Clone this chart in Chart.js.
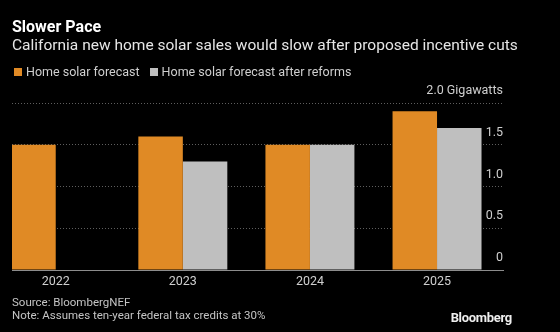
<!DOCTYPE html>
<html>
<head>
<meta charset="utf-8">
<script src="https://cdn.jsdelivr.net/npm/chart.js@4"></script>
<style>
  html, body { margin: 0; padding: 0; background: #000; }
  #wrap { position: relative; width: 560px; height: 332px; overflow: hidden; font-family: Roboto, sans-serif; }
  #chart { position: absolute; left: 0; top: 0; }
  .txt { position: absolute; left: 12px; white-space: nowrap; }
  #title { top: 17px; font-size: 16px; font-weight: bold; color: #fff; }
  #subtitle { top: 36px; font-size: 15.5px; color: #e6e6e6; }
  #legend { top: 64px; font-size: 12.5px; color: #cfcfcf; }
  #legend span.sw { display: inline-block; width: 8px; height: 8px; margin: 0 4px 0 2px; }
  #legend span.item { margin-right: 8px; }
  #source { top: 296px; font-size: 11.5px; color: #c4c4c4; line-height: 13px; }
  #logo { position: absolute; right: 48px; top: 310px; font-size: 13px; font-weight: bold; color: #eee; letter-spacing: -0.3px; }
</style>
</head>
<body>
<div id="wrap">
  <canvas id="chart" width="560" height="332"></canvas>
  <div class="txt" id="title">Slower Pace</div>
  <div class="txt" id="subtitle">California new home solar sales would slow after proposed incentive cuts</div>
  <div class="txt" id="legend"></div>
  <div class="txt" id="source">Source: BloombergNEF<br>Note: Assumes ten-year federal tax credits at 30%</div>
  <div id="logo">Bloomberg</div>
</div>
<script>
var years = [2022, 2023, 2024, 2025];
var forecast = [1.5, 1.6, 1.5, 1.9];
var afterReforms = [null, 1.3, 1.5, 1.7];
var yTicks = [0, 0.5, 1.0, 1.5, 2.0];
var seriesNames = ['Home solar forecast', 'Home solar forecast after reforms'];
var seriesColors = ['#e08a25', '#bfbfbf'];

// legend
var legendHtml = '';
seriesNames.forEach(function(name, i) {
    legendHtml += '<span class="item"><span class="sw" style="background:' + seriesColors[i] + '"></span>' + name + '</span>';
});
document.getElementById('legend').innerHTML = legendHtml;

function points(values) {
    return years.map(function(y, i) { return { x: y, y: values[i] }; });
}

var ctx = document.getElementById('chart').getContext('2d');
new Chart(ctx, {
    type: 'bar',
    data: {
        datasets: [{
            label: seriesNames[0],
            data: points(forecast),
            backgroundColor: seriesColors[0]
        }, {
            label: seriesNames[1],
            data: points(afterReforms),
            backgroundColor: seriesColors[1]
        }]
    },
    options: {
        responsive: false,
        animation: false,
        events: [],
        categoryPercentage: 0.7,
        barPercentage: 1.0,
        layout: { padding: { left: 12, right: 57, top: 103, bottom: 39 } },
        plugins: {
            legend: { display: false },
            title: { display: false },
            tooltip: { enabled: false }
        },
        scales: {
            x: {
                type: 'linear',
                offset: false,
                min: 2021.656,
                max: 2025.519,
                grid: { display: false, offset: false, drawTicks: false },
                border: { display: true, color: '#8c8c8c', width: 1 },
                afterBuildTicks: function(scale) {
                    scale.ticks = years.map(function(y) { return { value: y }; });
                },
                ticks: {
                    color: '#cfcfcf',
                    font: { family: 'Roboto', size: 12.5 },
                    padding: 4,
                    maxRotation: 0,
                    callback: function(v) { return String(v); }
                }
            },
            y: {
                position: 'right',
                min: 0,
                max: 2,
                afterBuildTicks: function(scale) {
                    scale.ticks = yTicks.map(function(v) { return { value: v }; });
                },
                grid: {
                    color: '#5e5e5e',
                    lineWidth: 1,
                    drawTicks: false
                },
                border: { display: false, dash: [1, 2] },
                ticks: {
                    mirror: true,
                    padding: 0,
                    labelOffset: -12,
                    color: '#cfcfcf',
                    font: { family: 'Roboto', size: 12.5 },
                    callback: function(v) {
                        if (v === 0) return '0';
                        if (v === 2) return '2.0 Gigawatts';
                        return v.toFixed(1);
                    }
                }
            }
        }
    }
});
</script>
</body>
</html>
